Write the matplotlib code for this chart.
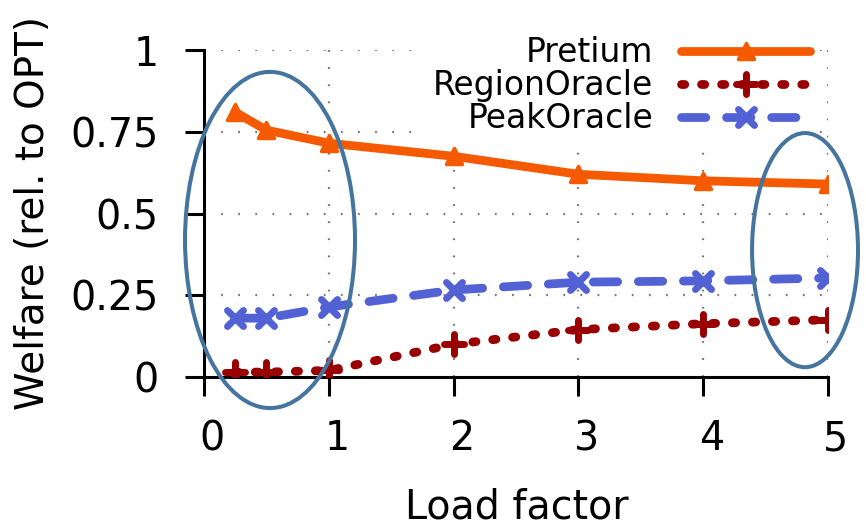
import numpy as np
import matplotlib
matplotlib.use("Agg")
import matplotlib.pyplot as plt
from matplotlib.markers import MarkerStyle
from matplotlib.patches import Ellipse
import matplotlib.transforms as mtransforms

load_factor = [0.25, 0.5, 1, 2, 3, 4, 5]
pretium = [0.81, 0.755, 0.715, 0.675, 0.62, 0.60, 0.59]
region_oracle = [0.015, 0.015, 0.02, 0.10, 0.145, 0.163, 0.175]
peak_oracle = [0.18, 0.18, 0.214, 0.266, 0.29, 0.294, 0.303]

x_ticks = [0, 1, 2, 3, 4, 5]
y_ticks = [0, 0.25, 0.5, 0.75, 1]
y_tick_labels = ["0", "0.25", "0.5", "0.75", "1"]

ORANGE = "#f55a00"
DARKRED = "#990000"
BLUE = "#5262d4"
RING = "#45759f"

plt.rcParams['font.family'] = ['DejaVu Sans']

fig = plt.figure(figsize=(8.66, 5.30), dpi=100)
ax = fig.add_axes([204 / 866, 1 - 377 / 530, 624 / 866, 327 / 530])

lw = 6.3
ax.plot(load_factor, pretium, color=ORANGE, lw=lw, solid_capstyle='round',
        solid_joinstyle='round', marker=MarkerStyle('^', joinstyle='round'),
        ms=12, mew=2.5, label="Pretium", zorder=3)
ax.plot(load_factor, region_oracle, color=DARKRED, lw=lw, dash_capstyle='round',
        linestyle=(0, (0.37, 1.92)),
        marker=MarkerStyle('+', capstyle='round'), ms=15, mew=5,
        label="RegionOracle", zorder=3)
ax.plot(load_factor, peak_oracle, color=BLUE, lw=lw, dash_capstyle='round',
        linestyle=(0, (2.78, 2.37)),
        marker=MarkerStyle('x', capstyle='round'), ms=12, mew=5,
        label="PeakOracle", zorder=3)

ax.set_xlim(0, 5)
ax.set_ylim(0, 1)
ax.set_xticks(x_ticks)
ax.set_yticks(y_ticks)
ax.set_yticklabels(y_tick_labels)
ax.tick_params(direction='out', length=13.5, width=2.2, labelsize=28.5,
               colors='black')
ax.tick_params(axis='y', pad=19)
ax.tick_params(axis='x', pad=17)

for side in ['top', 'right']:
    ax.spines[side].set_visible(False)
for side in ['left', 'bottom']:
    ax.spines[side].set_linewidth(2.2)

# gnuplot style dotted grid
for xv in x_ticks[1:]:
    ax.axvline(xv, color='#777777', lw=1.6, linestyle=(0, (0.8, 6.9)), zorder=1)
for yv in y_ticks[1:]:
    ax.axhline(yv, color='#777777', lw=1.6, linestyle=(0, (0.8, 6.9)), zorder=1)

# shift x tick labels slightly right like gnuplot
off = mtransforms.ScaledTranslation(8 / 100, 0, fig.dpi_scale_trans)
for lab in ax.get_xticklabels():
    lab.set_transform(lab.get_transform() + off)

ax.set_xlabel("Load factor", fontsize=28.5, va='baseline')
ax.xaxis.set_label_coords(0.5008, -0.434)
ax.set_ylabel("Welfare (rel. to OPT)", fontsize=28, va='center')
ax.yaxis.set_label_coords(-0.274, 0.503)

leg = ax.legend(loc='upper right', bbox_to_anchor=(818 / 866, 1 - 28 / 530),
                bbox_transform=fig.transFigure, fontsize=23.7, markerfirst=False,
                handlelength=3.9, handletextpad=0.85, labelspacing=0.0,
                borderpad=0.25, borderaxespad=0, numpoints=1,
                frameon=True, fancybox=False, framealpha=1, edgecolor='none',
                facecolor='white')
leg.set_zorder(5)
# right align legend labels
for vp in leg._legend_box.get_children()[1].get_children():
    vp.align = "right"

# highlight ellipses
ax.add_patch(Ellipse((0.529, 0.419), 1.362, 1.028, fill=False, ec=RING,
                     lw=2.9, clip_on=False, zorder=6))
ax.add_patch(Ellipse((4.816, 0.388), 0.849, 0.716, fill=False, ec=RING,
                     lw=2.9, clip_on=False, zorder=6))

fig.savefig("out.png", dpi=100)
